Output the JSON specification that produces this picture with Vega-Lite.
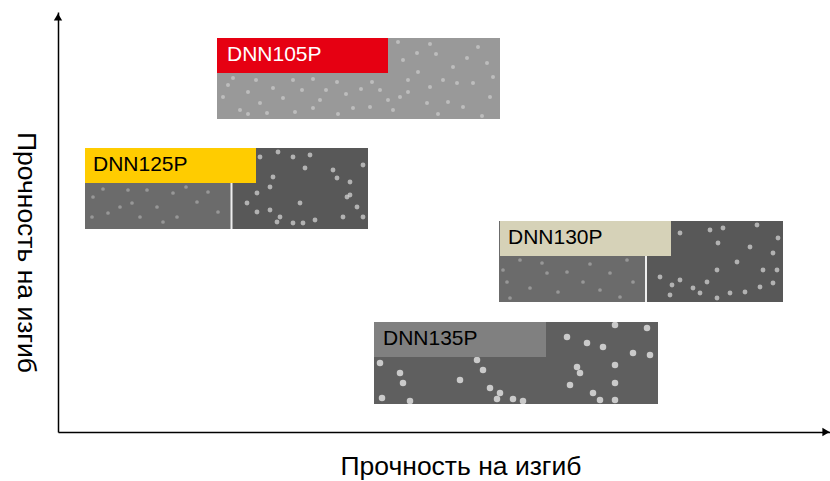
{"$schema":"https://vega.github.io/schema/vega-lite/v6.json","width":772,"height":420,"autosize":"none","padding":{"left":58,"top":12,"right":0,"bottom":49},"background":"white","config":{"view":{"stroke":null},"font":"Liberation Sans"},
"datasets":{
"panels":[
{"part":"a","x":159,"x2":442,"y":394,"y2":313},
{"part":"bl","x":27,"x2":174,"y":284,"y2":203},
{"part":"br","x":174,"x2":310,"y":284,"y2":203},
{"part":"cl","x":441,"x2":588,"y":211,"y2":130},
{"part":"cr","x":588,"x2":725,"y":211,"y2":130},
{"part":"d","x":316,"x2":600,"y":110,"y2":28}],
"labels":[
{"name":"DNN105P","x":159,"x2":330,"y":394,"y2":359,"tx":169,"ty":377},
{"name":"DNN125P","x":27,"x2":198,"y":284,"y2":249,"tx":35,"ty":267},
{"name":"DNN130P","x":442,"x2":613,"y":211,"y2":176,"tx":450,"ty":194},
{"name":"DNN135P","x":316,"x2":488,"y":110,"y2":75,"tx":325,"ty":93}],
"seps":[{"x":173.5,"y":249,"y2":203},{"x":588,"y":176,"y2":130}],
"speck":[
{"p":"a","x":429,"y":369},{"p":"a","x":360,"y":360},{"p":"a","x":314,"y":350},{"p":"a","x":390,"y":330},{"p":"a","x":330,"y":332},{"p":"a","x":262,"y":332},{"p":"a","x":342,"y":335},{"p":"a","x":202,"y":329},{"p":"a","x":165,"y":335},{"p":"a","x":175,"y":354},{"p":"a","x":215,"y":344},{"p":"a","x":235,"y":352},{"p":"a","x":279,"y":350},{"p":"a","x":295,"y":324},{"p":"a","x":312,"y":325},{"p":"a","x":369,"y":329},{"p":"a","x":409,"y":374},{"p":"a","x":340,"y":390},{"p":"a","x":359,"y":379},{"p":"a","x":415,"y":349},{"p":"a","x":399,"y":349},{"p":"a","x":424,"y":316},{"p":"a","x":209,"y":319},{"p":"a","x":182,"y":322},{"p":"a","x":255,"y":324},
{"p":"a","x":170,"y":347},{"p":"a","x":190,"y":340},{"p":"a","x":198,"y":352},{"p":"a","x":225,"y":334},{"p":"a","x":244,"y":342},{"p":"a","x":255,"y":353},{"p":"a","x":268,"y":342},{"p":"a","x":288,"y":338},{"p":"a","x":303,"y":343},{"p":"a","x":322,"y":342},{"p":"a","x":335,"y":322},{"p":"a","x":350,"y":340},{"p":"a","x":372,"y":345},{"p":"a","x":380,"y":318},{"p":"a","x":405,"y":325},{"p":"a","x":432,"y":335},{"p":"a","x":345,"y":372},{"p":"a","x":378,"y":378},{"p":"a","x":395,"y":365},{"p":"a","x":420,"y":385},{"p":"a","x":350,"y":352},{"p":"a","x":385,"y":352},{"p":"a","x":435,"y":355},{"p":"a","x":372,"y":388},{"p":"a","x":237,"y":320},{"p":"a","x":190,"y":318},{"p":"a","x":280,"y":318},
{"p":"r","x":202,"y":275},{"p":"r","x":220,"y":280},{"p":"r","x":235,"y":275},{"p":"r","x":252,"y":277},{"p":"r","x":305,"y":267},{"p":"r","x":212,"y":245},{"p":"r","x":215,"y":255},{"p":"r","x":199,"y":239},{"p":"r","x":189,"y":229},{"p":"r","x":199,"y":220},{"p":"r","x":212,"y":222},{"p":"r","x":222,"y":215},{"p":"r","x":235,"y":209},{"p":"r","x":242,"y":229},{"p":"r","x":247,"y":264},{"p":"r","x":275,"y":262},{"p":"r","x":279,"y":254},{"p":"r","x":292,"y":250},{"p":"r","x":289,"y":235},{"p":"r","x":292,"y":237},{"p":"r","x":285,"y":215},{"p":"r","x":299,"y":225},{"p":"r","x":257,"y":212},{"p":"r","x":245,"y":209},{"p":"r","x":305,"y":215},{"p":"r","x":219,"y":210},
{"p":"l","x":70,"y":242},{"p":"l","x":35,"y":235},{"p":"l","x":50,"y":219},{"p":"l","x":74,"y":229},{"p":"l","x":99,"y":225},{"p":"l","x":115,"y":239},{"p":"l","x":139,"y":230},{"p":"l","x":34,"y":215},{"p":"l","x":62,"y":225},{"p":"l","x":89,"y":242},{"p":"l","x":119,"y":215},{"p":"l","x":45,"y":243},{"p":"l","x":82,"y":215},{"p":"l","x":128,"y":245},{"p":"l","x":150,"y":240},{"p":"l","x":160,"y":220},{"p":"l","x":105,"y":210},
{"p":"r","x":622,"y":199},{"p":"r","x":652,"y":202},{"p":"r","x":665,"y":204},{"p":"r","x":699,"y":207},{"p":"r","x":720,"y":194},{"p":"r","x":692,"y":185},{"p":"r","x":660,"y":189},{"p":"r","x":679,"y":170},{"p":"r","x":705,"y":162},{"p":"r","x":715,"y":179},{"p":"r","x":659,"y":162},{"p":"r","x":649,"y":150},{"p":"r","x":622,"y":152},{"p":"r","x":602,"y":155},{"p":"r","x":614,"y":147},{"p":"r","x":635,"y":144},{"p":"r","x":642,"y":139},{"p":"r","x":659,"y":134},{"p":"r","x":672,"y":139},{"p":"r","x":702,"y":145},{"p":"r","x":715,"y":149},{"p":"r","x":719,"y":162},{"p":"r","x":612,"y":137},{"p":"r","x":687,"y":140},
{"p":"l","x":484,"y":169},{"p":"l","x":445,"y":162},{"p":"l","x":489,"y":159},{"p":"l","x":449,"y":150},{"p":"l","x":472,"y":144},{"p":"l","x":509,"y":160},{"p":"l","x":542,"y":142},{"p":"l","x":569,"y":172},{"p":"l","x":452,"y":134},{"p":"l","x":525,"y":150},{"p":"l","x":552,"y":159},{"p":"l","x":462,"y":172},{"p":"l","x":500,"y":140},{"p":"l","x":532,"y":168},{"p":"l","x":575,"y":150},{"p":"l","x":562,"y":135},
{"p":"d","x":557,"y":107},{"p":"d","x":589,"y":104},{"p":"d","x":509,"y":95},{"p":"d","x":529,"y":89},{"p":"d","x":545,"y":85},{"p":"d","x":519,"y":65},{"p":"d","x":522,"y":59},{"p":"d","x":575,"y":79},{"p":"d","x":592,"y":77},{"p":"d","x":557,"y":67},{"p":"d","x":557,"y":49},{"p":"d","x":535,"y":39},{"p":"d","x":542,"y":32},{"p":"d","x":557,"y":32},{"p":"d","x":425,"y":62},{"p":"d","x":402,"y":52},{"p":"d","x":419,"y":72},{"p":"d","x":432,"y":44},{"p":"d","x":442,"y":39},{"p":"d","x":465,"y":31},{"p":"d","x":455,"y":33},{"p":"d","x":439,"y":33},{"p":"d","x":352,"y":31},{"p":"d","x":324,"y":34},{"p":"d","x":342,"y":59},{"p":"d","x":322,"y":69},{"p":"d","x":345,"y":49},{"p":"d","x":512,"y":47}]
},
"layer":[
{"data":{"name":"panels"},"mark":{"type":"rect"},"encoding":{
"x":{"field":"x","type":"quantitative","scale":{"domain":[0,772],"nice":false,"zero":false},"axis":{"title":"Прочность на изгиб","labels":false,"ticks":false,"grid":false,"domainColor":"#000000","domainWidth":1.5,"titleFont":"Liberation Sans","titleFontSize":26.5,"titleFontWeight":"normal","titleColor":"#000000","titlePadding":21,"titleX":402.5,"titleAlign":"center"}},
"x2":{"field":"x2"},
"y":{"field":"y","type":"quantitative","scale":{"domain":[0,420],"nice":false,"zero":false},"axis":{"title":"Прочность на изгиб","labels":false,"ticks":false,"grid":false,"domainColor":"#000000","domainWidth":1.5,"titleFont":"Liberation Sans","titleFontSize":26.5,"titleFontWeight":"normal","titleColor":"#000000","titleAngle":90,"titlePadding":47,"titleY":240,"titleAlign":"center"}},
"y2":{"field":"y2"},
"color":{"field":"part","type":"nominal","legend":null,"scale":{"domain":["a","bl","br","cl","cr","d"],"range":["#999999","#6b6b6b","#585858","#6b6b6b","#585858","#5f5f5f"]}}}},
{"data":{"name":"speck"},"mark":{"type":"point","shape":"circle","filled":true,"opacity":0.75,"stroke":null},"encoding":{
"x":{"field":"x","type":"quantitative"},"y":{"field":"y","type":"quantitative"},
"color":{"field":"p","type":"nominal","legend":null,"scale":{"domain":["a","l","r","d"],"range":["#c9c9c9","#a5a5a5","#d0d0d0","#eeeeee"]}},
"size":{"field":"p","type":"nominal","legend":null,"scale":{"type":"ordinal","domain":["a","l","r","d"],"range":[16,14,24,42]}}}},
{"data":{"name":"seps"},"mark":{"type":"rule","color":"#eeeeee","strokeWidth":2},"encoding":{"x":{"field":"x","type":"quantitative"},"y":{"field":"y","type":"quantitative"},"y2":{"field":"y2"}}},
{"data":{"name":"labels"},"mark":{"type":"rect"},"encoding":{"x":{"field":"x","type":"quantitative"},"x2":{"field":"x2"},"y":{"field":"y","type":"quantitative"},"y2":{"field":"y2"},
"color":{"field":"name","type":"nominal","legend":null,"scale":{"domain":["DNN105P","DNN125P","DNN130P","DNN135P"],"range":["#e60012","#ffcc00","#d6d2b8","#808080"]}}}},
{"data":{"name":"labels"},"mark":{"type":"text","align":"left","baseline":"middle","font":"Liberation Sans","fontSize":21},"encoding":{"x":{"field":"tx","type":"quantitative"},"y":{"field":"ty","type":"quantitative"},"text":{"field":"name"},
"color":{"field":"name","type":"nominal","legend":null,"scale":{"domain":["DNN105P","DNN125P","DNN130P","DNN135P"],"range":["#ffffff","#000000","#000000","#000000"]}}}},
{"data":{"values":[{"x":0,"y":415}]},"mark":{"type":"point","shape":"triangle-up","filled":true,"color":"#000000","opacity":1,"size":70},"encoding":{"x":{"field":"x","type":"quantitative"},"y":{"field":"y","type":"quantitative"}}},
{"data":{"values":[{"x":768,"y":0}]},"mark":{"type":"point","shape":"triangle-right","filled":true,"color":"#000000","opacity":1,"size":70},"encoding":{"x":{"field":"x","type":"quantitative"},"y":{"field":"y","type":"quantitative"}}}
],
"resolve":{"scale":{"color":"independent","size":"independent"}}}
